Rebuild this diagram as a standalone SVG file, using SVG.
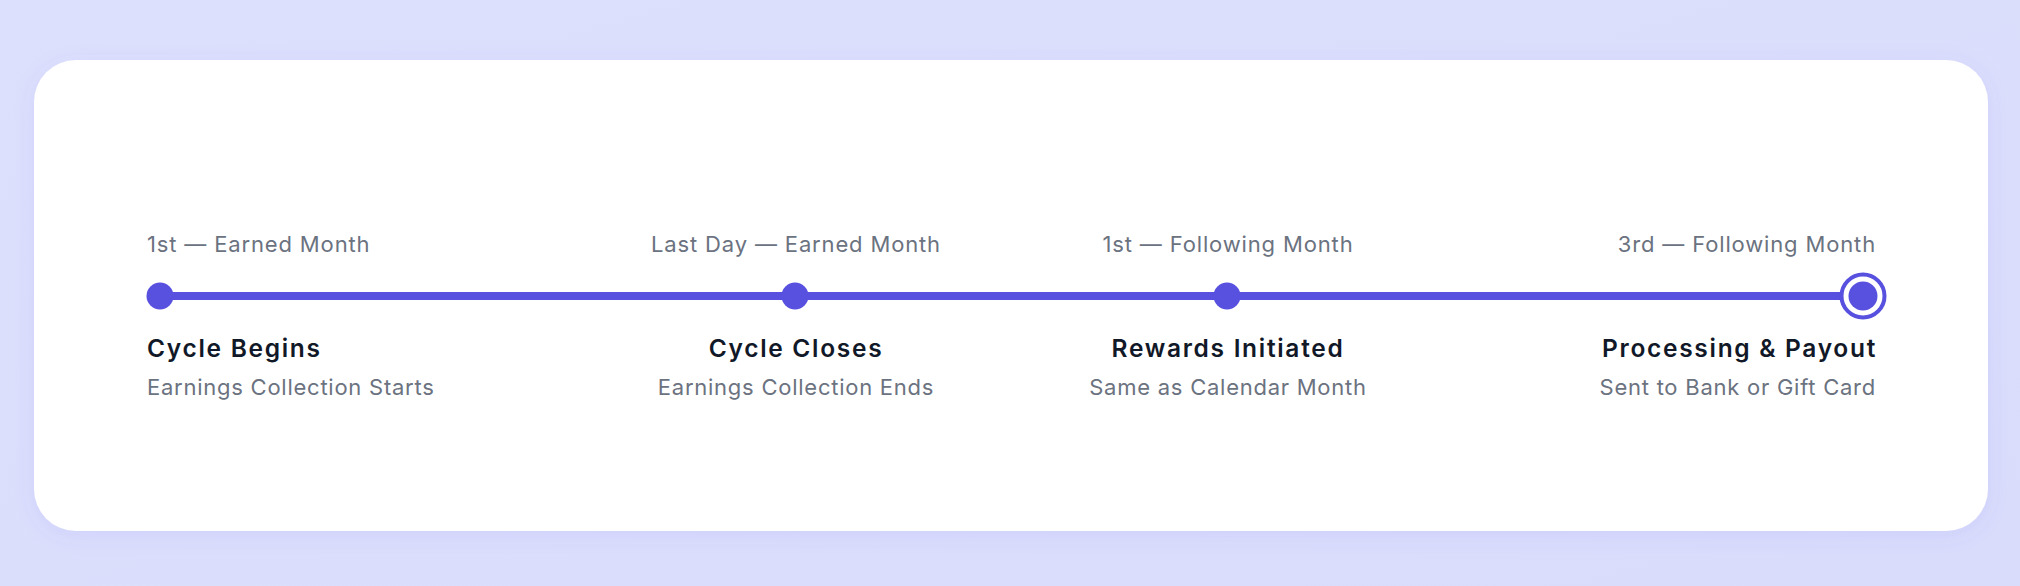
<svg xmlns="http://www.w3.org/2000/svg" width="2020" height="586" viewBox="0 0 2020 586">
  <defs>
    <linearGradient id="bg" x1="0" y1="0" x2="1" y2="1">
      <stop offset="0" stop-color="#DDE0FC"/>
      <stop offset="1" stop-color="#D9DCFB"/>
    </linearGradient>
    <filter id="shadow" x="-5%" y="-20%" width="110%" height="140%">
      <feDropShadow dx="0" dy="4" stdDeviation="10" flood-color="#6366F1" flood-opacity="0.10"/>
    </filter>
    <style>
      .date { font-family: Inter, "Noto Sans", "Liberation Sans", sans-serif; font-size: 22px; letter-spacing: 0.85px; fill: #6B7280; }
      .title { font-family: Inter, "Noto Sans", "Liberation Sans", sans-serif; font-size: 24.5px; font-weight: 600; letter-spacing: 1.7px; fill: #111827; }
      .sub { font-family: Inter, "Noto Sans", "Liberation Sans", sans-serif; font-size: 22px; letter-spacing: 0.75px; fill: #6B7280; }
      .dot { fill: #5850DF; }
    </style>
  </defs>
  <rect x="0" y="0" width="2020" height="586" fill="url(#bg)"/>
  <rect x="34" y="60" width="1954" height="471" rx="42" ry="42" fill="#FFFFFF" filter="url(#shadow)"/>

  <g id="connectors">
    <line x1="160" y1="296" x2="1862" y2="296" stroke="#5850DF" stroke-width="8"/>
  </g>

  <g id="node-cycle-begins">
    <circle class="dot" cx="160" cy="296" r="13.5"/>
    <text class="date" x="147" y="252">1st — Earned Month</text>
    <text class="title" x="147" y="357">Cycle Begins</text>
    <text class="sub" x="147" y="395">Earnings Collection Starts</text>
  </g>

  <g id="node-cycle-closes">
    <circle class="dot" cx="795" cy="296" r="13.5"/>
    <text class="date" x="796" y="252" text-anchor="middle">Last Day — Earned Month</text>
    <text class="title" x="796" y="357" text-anchor="middle">Cycle Closes</text>
    <text class="sub" x="796" y="395" text-anchor="middle">Earnings Collection Ends</text>
  </g>

  <g id="node-rewards-initiated">
    <circle class="dot" cx="1227" cy="296" r="13.5"/>
    <text class="date" x="1228" y="252" text-anchor="middle">1st — Following Month</text>
    <text class="title" x="1228" y="357" text-anchor="middle">Rewards Initiated</text>
    <text class="sub" x="1228" y="395" text-anchor="middle">Same as Calendar Month</text>
  </g>

  <g id="node-processing-payout">
    <circle cx="1863" cy="296" r="21.5" fill="#FFFFFF" stroke="#5850DF" stroke-width="4"/>
    <circle class="dot" cx="1863" cy="296" r="14.5"/>
    <text class="date" x="1876" y="252" text-anchor="end">3rd — Following Month</text>
    <text class="title" x="1877" y="357" text-anchor="end">Processing &amp; Payout</text>
    <text class="sub" x="1876" y="395" text-anchor="end">Sent to Bank or Gift Card</text>
  </g>
</svg>
